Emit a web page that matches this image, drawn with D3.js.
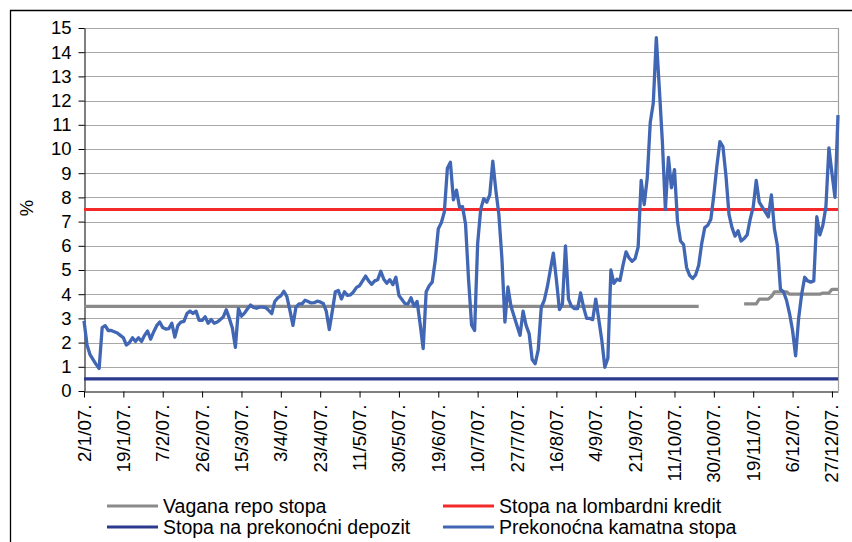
<!DOCTYPE html>
<html>
<head>
<meta charset="utf-8">
<script src="https://cdn.jsdelivr.net/npm/d3@7"></script>
<style>
  html, body { margin: 0; padding: 0; background: #fff; }
  svg { display: block; font-family: "Liberation Sans", Arial, sans-serif; }
</style>
</head>
<body>
<svg id="chart" width="852" height="542"></svg>
<script>
// Working-day axis labels (every 13th working day, Croatian holidays excluded)
const tickLabels = ["2/1/07.","19/1/07.","7/2/07.","26/2/07.","15/3/07.","3/4/07.","23/4/07.",
  "11/5/07.","30/5/07.","19/6/07.","10/7/07.","27/7/07.","16/8/07.","4/9/07.","21/9/07.",
  "11/10/07.","30/10/07.","19/11/07.","6/12/07.","27/12/07."];
const tickIndex = [0,13,26,39,52,65,78,91,104,117,130,143,156,169,182,195,208,221,234,247];

// Overnight interbank rate, one value per working day (%)
const overnightRate = [
  2.9,1.9,1.5,1.3,1.1,0.93,2.62,2.7,2.5,2.5,2.45,2.4,2.3,
  2.2,1.9,2.0,2.2,2.05,2.2,2.05,2.3,2.48,2.14,2.44,2.7,2.85,
  2.62,2.56,2.58,2.8,2.23,2.7,2.85,2.88,3.2,3.3,3.2,3.3,2.92,
  2.92,3.07,2.8,2.95,2.8,2.85,2.95,3.06,3.36,3.0,2.6,1.8,3.4,
  3.09,3.22,3.4,3.55,3.45,3.42,3.47,3.47,3.45,3.33,3.2,3.7,3.85,
  3.93,4.12,3.9,3.33,2.71,3.47,3.6,3.6,3.75,3.7,3.64,3.65,3.71,
  3.68,3.62,3.3,2.54,3.3,4.1,4.15,3.8,4.1,3.95,3.97,4.1,4.28,
  4.35,4.55,4.75,4.55,4.41,4.55,4.6,4.95,4.62,4.45,4.6,4.4,4.7,
  3.95,3.78,3.61,3.6,3.85,3.5,3.7,2.78,1.75,4.1,4.35,4.5,5.4,
  6.7,6.95,7.4,9.2,9.45,7.9,8.3,7.6,7.62,6.9,4.6,2.72,2.5,
  6.1,7.5,7.95,7.8,8.1,9.5,8.3,7.3,5.5,2.85,4.3,3.5,3.1,
  2.7,2.3,3.3,2.71,2.37,1.3,1.13,1.7,3.45,3.75,4.3,5.0,5.7,
  4.6,3.36,3.6,6.0,3.8,3.5,3.4,3.4,4.05,3.45,3.0,3.0,2.95,
  3.8,2.95,2.1,0.98,1.35,5.0,4.45,4.62,4.57,5.2,5.75,5.5,5.36,
  5.47,5.95,8.7,7.7,8.8,11.1,11.9,14.6,12.5,10.3,7.5,9.65,8.4,
  9.15,7.0,6.2,6.05,5.1,4.78,4.65,4.8,5.2,6.1,6.75,6.85,7.1,
  8.1,9.3,10.3,10.1,8.9,7.3,6.75,6.4,6.62,6.2,6.3,6.45,7.1,
  7.6,8.7,7.8,7.6,7.4,7.2,8.1,6.7,6.0,4.2,4.1,3.75,3.2,
  2.5,1.45,3.0,4.0,4.7,4.55,4.5,4.55,7.2,6.45,6.85,7.6,10.05,
  9.0,8.0,11.4
];

// Weighted repo rate (%), null where no auction took place
const repoRate = [
  3.5,3.5,3.5,3.5,3.5,3.5,3.5,3.5,3.5,3.5,3.5,3.5,3.5,
  3.5,3.5,3.5,3.5,3.5,3.5,3.5,3.5,3.5,3.5,3.5,3.5,3.5,
  3.5,3.5,3.5,3.5,3.5,3.5,3.5,3.5,3.5,3.5,3.5,3.5,3.5,
  3.5,3.5,3.5,3.5,3.5,3.5,3.5,3.5,3.5,3.5,3.5,3.5,3.5,
  3.5,3.5,3.5,3.5,3.5,3.5,3.5,3.5,3.5,3.5,3.5,3.5,3.5,
  3.5,3.5,3.5,3.5,3.5,3.5,3.5,3.5,3.5,3.5,3.5,3.5,3.5,
  3.5,3.5,3.5,3.5,3.5,3.5,3.5,3.5,3.5,3.5,3.5,3.5,3.5,
  3.5,3.5,3.5,3.5,3.5,3.5,3.5,3.5,3.5,3.5,3.5,3.5,3.5,
  3.5,3.5,3.5,3.5,3.5,3.5,3.5,3.5,3.5,3.5,3.5,3.5,3.5,
  3.5,3.5,3.5,3.5,3.5,3.5,3.5,3.5,3.5,3.5,3.5,3.5,3.5,
  3.5,3.5,3.5,3.5,3.5,3.5,3.5,3.5,3.5,3.5,3.5,3.5,3.5,
  3.5,3.5,3.5,3.5,3.5,3.5,3.5,3.5,3.5,3.5,3.5,3.5,3.5,
  3.5,3.5,3.5,3.5,3.5,3.5,3.5,3.5,3.5,3.5,3.5,3.5,3.5,
  3.5,3.5,3.5,3.5,3.5,3.5,3.5,3.5,3.5,3.5,3.5,3.5,3.5,
  3.5,3.5,3.5,3.5,3.5,3.5,3.5,3.5,3.5,3.5,3.5,3.5,3.5,
  3.5,3.5,3.5,3.5,3.5,3.5,3.5,3.5,3.5,
  null,null,null,null,null,null,null,null,null,null,null,null,null,null,
  3.6,3.6,3.6,3.6,3.6,3.8,3.8,3.8,3.8,3.9,4.1,4.1,4.1,4.1,4.1,
  4.0,4.0,4.0,4.0,4.0,4.0,4.0,4.0,4.0,4.0,4.0,4.05,4.05,4.05,4.2,4.2,4.2
];

// Standing facility rates (%), unchanged through the year
const lombardRate = 7.5;
const depositRate = 0.5;

const yTicks = [0,1,2,3,4,5,6,7,8,9,10,11,12,13,14,15];

const legendItems = [
  { name: "Vagana repo stopa", color: "#8a8a8a" },
  { name: "Stopa na lombardni kredit", color: "#f42a2a" },
  { name: "Stopa na prekonoćni depozit", color: "#2c3a8e" },
  { name: "Prekonoćna kamatna stopa", color: "#4066b4" }
];

const svg = d3.select("#chart");
const margin = { left: 84, right: 14, top: 28, bottom: 151 };
const W = 852, H = 542;
const x0 = margin.left, x1 = W - margin.right, y0 = H - margin.bottom, y1 = margin.top;

const n = overnightRate.length;
const x = d3.scaleLinear().domain([0, n - 1]).range([x0, x1]);
const y = d3.scaleLinear().domain([0, 15]).range([y0, y1]);

svg.append("rect").attr("width", W).attr("height", H).attr("fill", "#fff");

// Outer chart frame
svg.append("path")
  .attr("d", `M10.5,${H} V10.5 H${W}`)
  .attr("fill", "none").attr("stroke", "#000").attr("stroke-width", 1.3);

// Horizontal gridlines
svg.append("g").selectAll("line").data(yTicks.filter(d => d > 0)).join("line")
  .attr("x1", x0).attr("x2", x1)
  .attr("y1", d => Math.round(y(d)) + 0.5).attr("y2", d => Math.round(y(d)) + 0.5)
  .attr("stroke", "#a8a8a8").attr("stroke-width", 1);

// Plot area right border
svg.append("line")
  .attr("x1", x1 + 0.5).attr("x2", x1 + 0.5).attr("y1", y1).attr("y2", y0)
  .attr("stroke", "#a0a0a0").attr("stroke-width", 1.2);

// Y axis
const yAxis = svg.append("g")
  .attr("transform", `translate(${x0 + 0.5},0)`)
  .call(d3.axisLeft(y).tickValues(yTicks).tickSize(6).tickSizeOuter(0).tickPadding(7).tickFormat(d3.format("d")));
yAxis.selectAll("text").attr("font-size", "18.5px").attr("fill", "#000")
  .attr("font-family", "'Liberation Sans', Arial, sans-serif");
yAxis.selectAll("line,path").attr("stroke", "#000");

// X axis with rotated date labels
const xAxis = svg.append("g")
  .attr("transform", `translate(0,${Math.round(y0) + 0.5})`)
  .call(d3.axisBottom(x).tickValues(tickIndex).tickSize(6).tickSizeOuter(0)
    .tickFormat((d, i) => tickLabels[i]));
xAxis.selectAll("line,path").attr("stroke", "#000");
xAxis.selectAll("text")
  .attr("font-size", "18.8px").attr("fill", "#000")
  .attr("font-family", "'Liberation Sans', Arial, sans-serif")
  .attr("transform", "rotate(-90)")
  .attr("text-anchor", "end")
  .attr("x", -13).attr("y", 6).attr("dy", 0);

// Y axis title
svg.append("text")
  .attr("transform", `translate(33,208) rotate(-90)`)
  .attr("text-anchor", "middle")
  .attr("font-size", "18.5px")
  .text("%");

const line = d3.line()
  .defined(d => d != null)
  .x((d, i) => x(i))
  .y(d => y(d));

const series = g => g.attr("fill", "none").attr("stroke-linejoin", "round").attr("stroke-linecap", "butt");

// Weighted repo rate
svg.append("path").datum(repoRate).call(series)
  .attr("stroke", legendItems[0].color).attr("stroke-width", 3.2).attr("d", line);

// Lombard rate
svg.append("line")
  .attr("x1", x(0)).attr("x2", x(n - 1))
  .attr("y1", y(lombardRate)).attr("y2", y(lombardRate))
  .attr("stroke", legendItems[1].color).attr("stroke-width", 3.2);

// Overnight deposit rate
svg.append("line")
  .attr("x1", x(0)).attr("x2", x(n - 1))
  .attr("y1", y(depositRate)).attr("y2", y(depositRate))
  .attr("stroke", legendItems[2].color).attr("stroke-width", 3.2);

// Overnight interbank rate
svg.append("path").datum(overnightRate).call(series)
  .attr("stroke", legendItems[3].color).attr("stroke-width", 3.3).attr("d", line);

// Legend: two columns, two rows
const legendPos = [
  { lx: 107, ly: 506 }, { lx: 443, ly: 506 },
  { lx: 107, ly: 527 }, { lx: 443, ly: 527 }
];
const lg = svg.append("g").selectAll("g").data(legendItems).join("g")
  .attr("transform", (d, i) => `translate(${legendPos[i].lx},${legendPos[i].ly})`);
lg.append("line").attr("x1", 0).attr("x2", 51).attr("y1", 0).attr("y2", 0)
  .attr("stroke", d => d.color).attr("stroke-width", 3.2);
lg.append("text").attr("x", 56).attr("y", 6.5)
  .attr("font-size", "19.5px").attr("fill", "#000")
  .text(d => d.name);
</script>
</body>
</html>
